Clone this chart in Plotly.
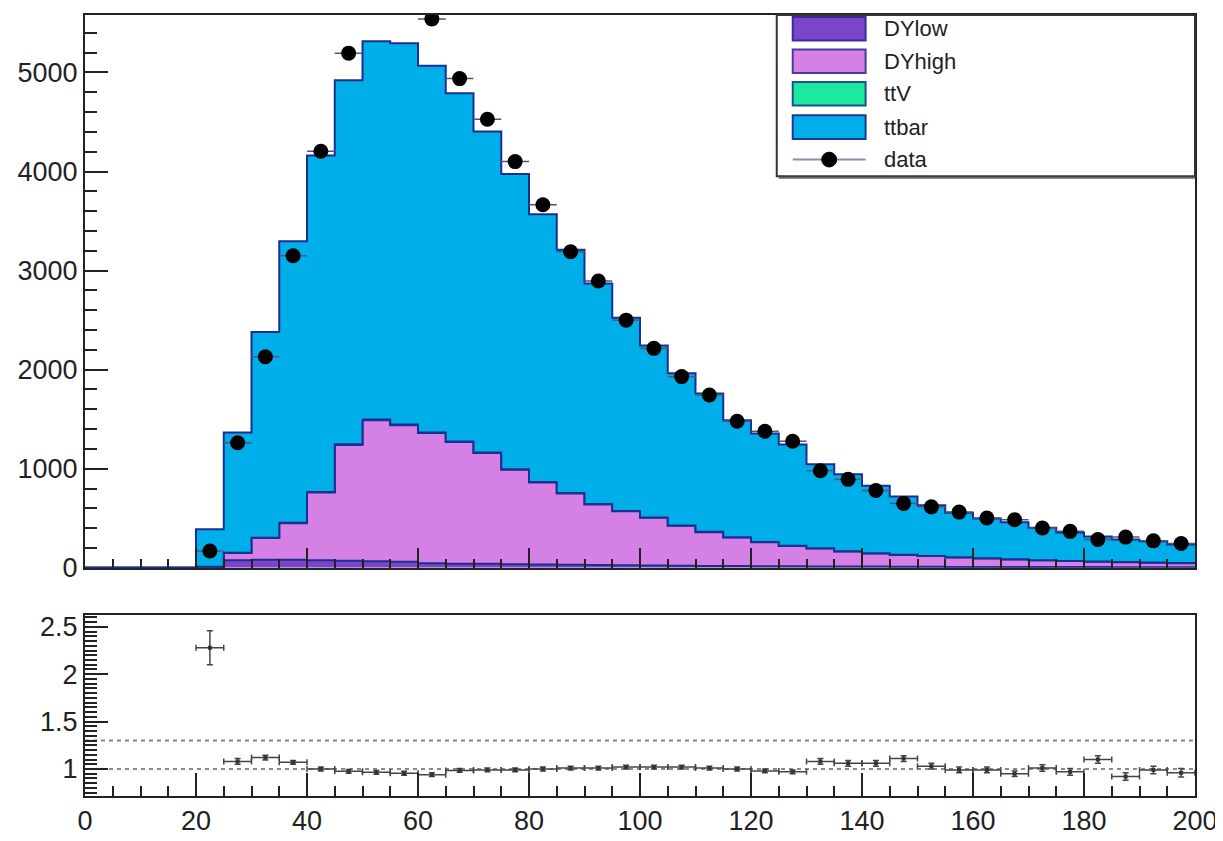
import plotly.graph_objects as go

# ---------------- data ----------------
bin_edges = list(range(0, 205, 5))            # 40 bins of width 5, 0..200
bin_centers = [22.5 + 5 * i for i in range(36)]  # bins with data (20..200)

dy_low = [0, 0, 0, 0, 5, 75, 80, 80, 75, 70, 65, 60, 45, 42, 40, 36, 33, 30, 27, 25,
          23, 21, 19, 17, 16, 15, 14, 13, 12, 11, 10, 9, 9, 8, 8, 7, 7, 6, 6, 5]
dy_high = [0, 0, 0, 0, 5, 75, 220, 370, 685, 1170, 1425, 1380, 1315, 1228, 1120, 954,
           827, 720, 613, 545, 482, 404, 341, 288, 242, 205, 181, 152, 133, 119, 108,
           96, 86, 77, 68, 61, 55, 51, 46, 42]
ttv = [0, 0, 0, 0, 1, 3, 4, 5, 5, 6, 6, 6, 6, 6, 5, 5, 5, 4, 4, 4, 3, 3, 3, 3, 2, 2,
       2, 2, 2, 2, 2, 1, 1, 1, 1, 1, 1, 1, 1, 1]
ttbar = [0, 0, 0, 0, 379, 1212, 2076, 2840, 3397, 3676, 3819, 3849, 3702, 3514, 3240,
         2980, 2703, 2456, 2226, 1951, 1737, 1537, 1397, 1182, 1095, 1023, 848, 778,
         681, 588, 512, 450, 402, 375, 328, 287, 252, 228, 216, 188]

data = [170, 1262, 2130, 3150, 4205, 5195, 5720, 5740, 5540, 4938, 4527, 4100, 3665,
        3190, 2895, 2500, 2215, 1930, 1745, 1480, 1378, 1278, 980, 893, 780, 650, 615,
        562, 503, 485, 402, 368, 286, 310, 272, 246]

ratio = [2.28, 1.08, 1.12, 1.07, 1.00, 0.975, 0.965, 0.955, 0.94, 0.985, 0.99, 0.99,
         1.00, 1.01, 1.01, 1.02, 1.02, 1.02, 1.01, 1.00, 0.98, 0.97, 1.08, 1.06, 1.06,
         1.11, 1.03, 0.99, 0.99, 0.95, 1.01, 0.97, 1.10, 0.92, 0.99, 0.96]
ratio_err = [0.18, 0.03, 0.025, 0.02, 0.02, 0.02, 0.02, 0.02, 0.02, 0.02, 0.02, 0.02,
             0.02, 0.02, 0.02, 0.02, 0.02, 0.02, 0.02, 0.02, 0.02, 0.02, 0.03, 0.03,
             0.03, 0.03, 0.03, 0.03, 0.03, 0.03, 0.035, 0.035, 0.04, 0.04, 0.04, 0.045]

legend_labels = ["DYlow", "DYhigh", "ttV", "ttbar", "data"]
ratio_ticks = [1, 1.5, 2, 2.5]
ratio_ticktext = ["1", "1.5", "2", "2.5"]

# ---------------- style ----------------
FONT = "Liberation Sans, Arial, sans-serif"
C_DYLOW, C_DYHIGH, C_TTV, C_TTBAR = "#7b44c9", "#d580e4", "#1ee8a0", "#00aeea"
C_LINE = "#1c2f8f"
AX = "#222222"

# page body has an 8px margin -> figure is offset by 8px in the window
OFF = 8
W, H = 1223 - OFF, 841 - OFF
L, R, T, B = 85 - OFF, 26, 13 - OFF, 34
PW, PH = W - L - R, H - T - B


def px(x):          # window pixel -> paper x
    return (x - OFF - L) / PW


def py(y):          # window pixel -> paper y
    return (H - B - (y - OFF)) / PH


fig = go.Figure()

layers = [dy_low, dy_high, ttv, ttbar]
colors = [C_DYLOW, C_DYHIGH, C_TTV, C_TTBAR]
cum = [0] * len(dy_low)
for i, (vals, col) in enumerate(zip(layers, colors)):
    cum = [a + b for a, b in zip(cum, vals)]
    fig.add_trace(go.Scatter(
        x=bin_edges, y=cum + [cum[-1]], mode="lines", line_shape="hv",
        line=dict(color=C_LINE, width=2), fill="tozeroy" if i == 0 else "tonexty",
        fillcolor=col, showlegend=False, hoverinfo="skip", xaxis="x", yaxis="y"))

fig.add_trace(go.Scatter(
    x=bin_centers, y=data, mode="markers",
    marker=dict(color="black", size=15),
    error_x=dict(type="constant", value=2.5, color="#55557a", thickness=1.5, width=0),
    showlegend=False, xaxis="x", yaxis="y", cliponaxis=True))

fig.add_trace(go.Scatter(
    x=bin_centers, y=ratio, mode="markers",
    marker=dict(color="#333333", size=4, symbol="square"),
    error_x=dict(type="constant", value=2.5, color="#444444", thickness=1.5, width=3),
    error_y=dict(type="data", array=ratio_err, color="#444444", thickness=1.5, width=3),
    showlegend=False, xaxis="x2", yaxis="y2"))

# reference lines in ratio panel
for yv in (1.0, 1.3):
    fig.add_shape(type="line", xref="x2", yref="y2", x0=0, x1=200, y0=yv, y1=yv,
                  line=dict(color="#8a8a8a", width=2, dash="4px,4px"), layer="below")

# ---------------- legend (ROOT-style box) ----------------
fig.add_shape(type="rect", xref="paper", yref="paper", x0=px(778), x1=px(1197),
              y0=py(177), y1=py(13), fillcolor="white", line=dict(color="#333", width=2))
fig.add_shape(type="line", xref="paper", yref="paper", x0=px(780), x1=px(1197),
              y0=py(178.5), y1=py(178.5), line=dict(color="#666", width=2))
centers_y = [27, 60, 93, 127, 160]
borders = ["#3b2a9a", "#4a3aa0", "#1f4f8f", "#1c3a8f"]
for i, lab in enumerate(legend_labels):
    cy = centers_y[i]
    if i < 4:
        fig.add_shape(type="rect", xref="paper", yref="paper", x0=px(794), x1=px(867),
                      y0=py(cy + 12), y1=py(cy - 12), fillcolor=colors[i],
                      line=dict(color=borders[i], width=2))
    else:
        fig.add_shape(type="line", xref="paper", yref="paper", x0=px(794), x1=px(867),
                      y0=py(cy), y1=py(cy), line=dict(color="#8a8ab8", width=2))
        fig.add_shape(type="circle", xref="paper", yref="paper", x0=px(823), x1=px(838),
                      y0=py(cy + 7.5), y1=py(cy - 7.5), fillcolor="black",
                      line=dict(color="black", width=1))
    fig.add_annotation(xref="paper", yref="paper", x=px(883), y=py(cy), text=lab,
                       showarrow=False, xanchor="left", yanchor="middle",
                       font=dict(family=FONT, size=22, color="#222"))

common_x = dict(range=[0, 200], showgrid=False, zeroline=False, showline=True,
                mirror=True, linecolor=AX, linewidth=2, ticks="inside", tickcolor=AX,
                tickwidth=2, tick0=0, dtick=20, tickfont=dict(family=FONT, size=27, color=AX))

fig.update_layout(
    width=W, height=H, autosize=False,
    margin=dict(l=L, r=R, t=T, b=B),
    paper_bgcolor="white", plot_bgcolor="white", showlegend=False,
    xaxis=dict(**common_x, anchor="y", showticklabels=False, ticklen=20,
               minor=dict(ticks="inside", dtick=5, ticklen=9, tickwidth=2, tickcolor=AX)),
    yaxis=dict(domain=[py(575), 1], range=[0, 5580], showgrid=False,
               zeroline=False, showline=True, mirror=True, linecolor=AX, linewidth=2,
               ticks="inside", tickcolor=AX, tickwidth=2, ticklen=23, tick0=0, dtick=1000,
               tickformat="d", tickfont=dict(family=FONT, size=27, color=AX),
               minor=dict(ticks="inside", dtick=200, ticklen=12, tickwidth=2, tickcolor=AX)),
    xaxis2=dict(**common_x, anchor="y2", matches="x", ticklen=23,
                minor=dict(ticks="inside", dtick=5, ticklen=10, tickwidth=2, tickcolor=AX)),
    yaxis2=dict(domain=[0, py(622.7)], range=[0.715, 2.628], showgrid=False,
                zeroline=False, showline=True, mirror=True, linecolor=AX, linewidth=2,
                ticks="inside", tickcolor=AX, tickwidth=2, ticklen=23,
                tickmode="array", tickvals=ratio_ticks, ticktext=ratio_ticktext,
                tickfont=dict(family=FONT, size=27, color=AX),
                minor=dict(ticks="inside", tickmode="linear", tick0=0, dtick=0.05,
                           ticklen=12, tickwidth=2, tickcolor=AX)),
)

fig.write_html("out.html")
